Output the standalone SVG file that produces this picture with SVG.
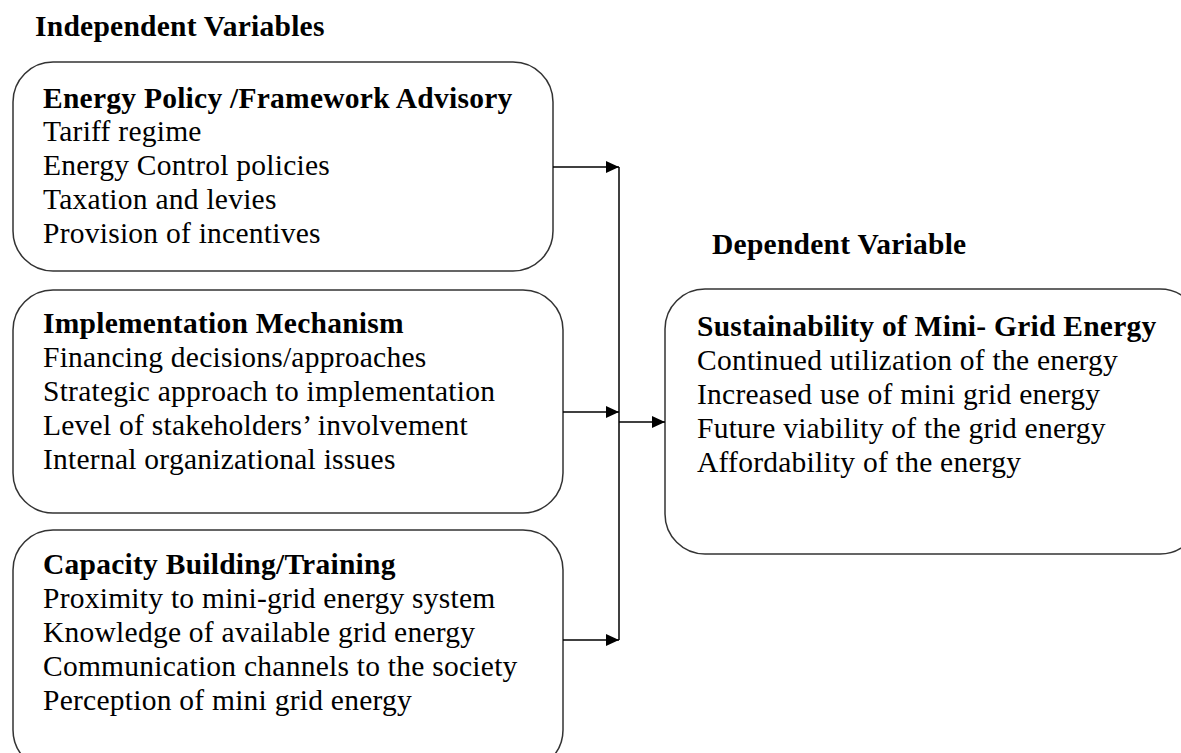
<svg xmlns="http://www.w3.org/2000/svg" width="1181" height="753" viewBox="0 0 1181 753">
<style>
.box{fill:#fff;stroke:#333;stroke-width:1.5}
.t{font-family:"Liberation Serif","Times New Roman",serif;font-size:29.5px;letter-spacing:0.25px;fill:#000}
.b{font-weight:bold}
.h{font-family:"Liberation Serif","Times New Roman",serif;font-size:29.5px;letter-spacing:0.25px;font-weight:bold;fill:#000}
.c{fill:none;stroke:#000;stroke-width:1.5}
</style>
<defs>
<marker id="ah" markerWidth="13" markerHeight="12" refX="13" refY="6" orient="auto" markerUnits="userSpaceOnUse">
<path d="M0,0 L13,6 L0,12 Z" fill="#000"/>
</marker>
</defs>
<rect width="1181" height="753" fill="#fff"/>
<text class="h" x="35" y="36">Independent Variables</text>
<text class="h" x="712" y="254">Dependent Variable</text>
<g id="n1">
<rect class="box" x="13" y="62" width="540" height="209" rx="40"/>
<text class="t b" x="43" y="108">Energy Policy /Framework Advisory</text>
<text class="t" x="43" y="141">Tariff regime</text>
<text class="t" x="43" y="175">Energy Control policies</text>
<text class="t" x="43" y="209">Taxation and levies</text>
<text class="t" x="43" y="243">Provision of incentives</text>
</g>
<g id="n2">
<rect class="box" x="13" y="290" width="550" height="223" rx="40"/>
<text class="t b" x="43" y="333">Implementation Mechanism</text>
<text class="t" x="43" y="367">Financing decisions/approaches</text>
<text class="t" x="43" y="401">Strategic approach to implementation</text>
<text class="t" x="43" y="435">Level of stakeholders’ involvement</text>
<text class="t" x="43" y="469">Internal organizational issues</text>
</g>
<g id="n3">
<rect class="box" x="13" y="530" width="550" height="240" rx="40"/>
<text class="t b" x="43" y="574">Capacity Building/Training</text>
<text class="t" x="43" y="608">Proximity to mini-grid energy system</text>
<text class="t" x="43" y="642">Knowledge of available grid energy</text>
<text class="t" x="43" y="676">Communication channels to the society</text>
<text class="t" x="43" y="710">Perception of mini grid energy</text>
</g>
<g id="n4">
<rect class="box" x="665" y="289" width="535" height="265" rx="40"/>
<text class="t b" x="697" y="336">Sustainability of Mini- Grid Energy</text>
<text class="t" x="697" y="370">Continued utilization of the energy</text>
<text class="t" x="697" y="404">Increased use of mini grid energy</text>
<text class="t" x="697" y="438">Future viability of the grid energy</text>
<text class="t" x="697" y="472">Affordability of the energy</text>
</g>
<g id="connectors">
<line class="c" x1="553" y1="167" x2="619" y2="167" marker-end="url(#ah)"/>
<line class="c" x1="563" y1="412" x2="619" y2="412" marker-end="url(#ah)"/>
<line class="c" x1="563" y1="640" x2="619" y2="640" marker-end="url(#ah)"/>
<line class="c" x1="619" y1="167" x2="619" y2="640"/>
<line class="c" x1="619" y1="422" x2="665" y2="422" marker-end="url(#ah)"/>
</g>
</svg>
